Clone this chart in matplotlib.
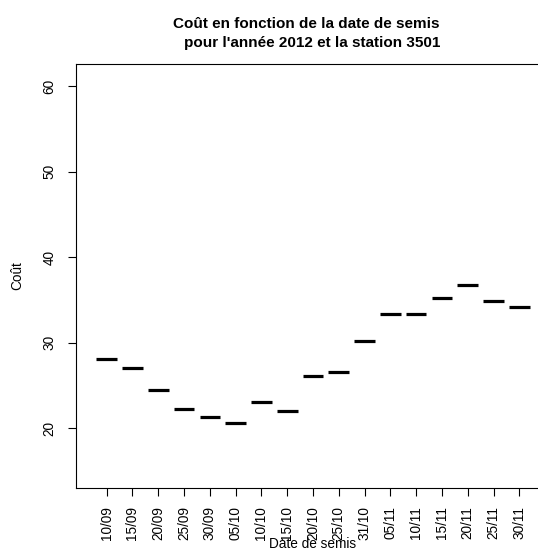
import matplotlib
matplotlib.use("Agg")
import matplotlib.pyplot as plt

dates = ["10/09", "15/09", "20/09", "25/09", "30/09", "05/10", "10/10", "15/10",
         "20/10", "25/10", "31/10", "05/11", "10/11", "15/11", "20/11", "25/11", "30/11"]
couts = [28.07, 27.10, 24.48, 22.26, 21.29, 20.67, 23.12, 22.07,
         26.12, 26.59, 30.21, 33.30, 33.30, 35.17, 36.73, 34.85, 34.19]
yticks = [20, 30, 40, 50, 60]

plt.rcParams['font.family'] = ['Liberation Sans', 'DejaVu Sans']

W, H = 538, 551
L, R, T, B = 76, 550, 64, 488
fig = plt.figure(figsize=(W / 100, H / 100), dpi=100)
ax = fig.add_axes([L / W, 1 - B / H, (R - L) / W, (B - T) / H])

pos = list(range(1, len(dates) + 1))
ax.hlines(couts, [p - 0.4 for p in pos], [p + 0.4 for p in pos], colors='black', linewidth=2.3)

ax.set_xlim(-0.19, 18.19)
ax.set_ylim(13.02, 62.57)
ax.set_xticks(pos)
ax.set_xticklabels(dates, rotation=90, fontsize=9.8)
ax.set_yticks(yticks)
ax.set_yticklabels([str(v) for v in yticks], rotation=90, va='center', fontsize=9.8)
ax.tick_params(axis='x', length=6, width=0.8, pad=7)
ax.tick_params(axis='y', length=6, width=0.8, pad=8)
for s in ax.spines.values():
    s.set_linewidth(0.8)

ax.set_xlabel("Date de semis", fontsize=9.8)
ax.set_ylabel("Coût", fontsize=9.8)
ax.yaxis.set_label_coords((24 - L) / (R - L), 0.5)
ax.xaxis.set_label_coords(0.5, (B - 548.5) / (B - T))
ax.xaxis.label.set_va('baseline')

fig.text(306 / W, 1 - 27.7 / H, "Coût en fonction de la date de semis", ha='center', va='baseline',
         fontsize=11, fontweight='bold')
fig.text(312 / W, 1 - 46.7 / H, "pour l'année 2012 et la station 3501", ha='center', va='baseline',
         fontsize=11, fontweight='bold')

fig.savefig("out.png", dpi=100)
